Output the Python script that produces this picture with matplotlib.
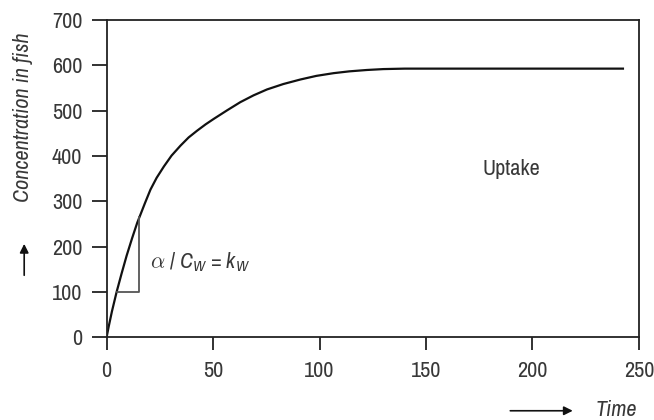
import numpy as np
import matplotlib
matplotlib.use('Agg')
import matplotlib.pyplot as plt
from matplotlib import font_manager

names = sorted(set(f.name for f in font_manager.fontManager.ttflist))
narrow = [n for n in names if 'Narrow' in n or 'Condensed' in n or 'Cond' in n]
fam = narrow[0] if narrow else 'Liberation Sans'
plt.rcParams['font.family'] = [fam, 'DejaVu Sans']
plt.rcParams['mathtext.fontset'] = 'custom'
plt.rcParams['mathtext.rm'] = fam
plt.rcParams['mathtext.it'] = fam + ':italic'

# values
time = [0, 1, 2.5, 4.7, 7, 9.4, 12, 14.4, 15.5, 18, 20.6, 23.5, 26.9, 30.5, 34.7, 38.5,
        42.5, 46.5, 50.3, 56.6, 62.8, 69, 75.3, 83, 91, 98.5, 106.6, 114, 122.2, 130,
        140, 160, 200, 243]
conc = [0, 24, 57, 100, 140, 180, 219, 253, 266, 296, 326, 352, 377, 401, 423, 441,
        456, 470, 482, 501, 519, 534, 547, 559, 569, 577, 583, 587, 590, 592,
        593, 593, 593, 593]

tri_x = [5, 15.3, 15.3]
tri_y = [100, 100, 265]

txt = '#383838'
fs = 16 if narrow else 14
fig = plt.figure(figsize=(6.54, 4.2), dpi=100)
ax = fig.add_axes([0.163, 0.197, 0.814, 0.755])
ax.plot(time, conc, color='#111111', lw=1.6, solid_capstyle='butt')
ax.plot(tri_x, tri_y, color='#555555', lw=1.3)

ax.set_xlim(0, 250)
ax.set_ylim(0, 700)
ax.set_xticks([0, 50, 100, 150, 200, 250])
ax.set_yticks(range(0, 701, 100))
ax.tick_params(axis='y', length=10.5, width=1.3, labelsize=fs, colors='#222222', labelcolor=txt, pad=7)
ax.tick_params(axis='x', length=9, width=1.3, labelsize=fs, colors='#222222', labelcolor=txt, pad=8)
for s in ax.spines.values():
    s.set_linewidth(1.3)
    s.set_color('#222222')

ax.text(190, 372, 'Uptake', fontsize=fs, color=txt, va='center', ha='center')
ax.text(20.6, 166, r'$\mathrm{\alpha}$ / $\mathit{C}_\mathit{W}$ = $\mathit{k}_\mathit{W}$', fontsize=fs,
        color=txt, va='center', ha='left')

fig.text(0.035, 0.72, 'Concentration in fish', rotation=90, style='italic', fontsize=fs,
         color=txt, ha='center', va='center')
ax.annotate('', xy=(0.037, 0.426), xytext=(0.037, 0.338), xycoords='figure fraction',
            textcoords='figure fraction', annotation_clip=False,
            arrowprops=dict(arrowstyle='-|>', color='#111111', lw=1.2, mutation_scale=13))
fig.text(0.974, 0.024, 'Time', style='italic', fontsize=fs, color=txt, ha='right', va='center')
ax.annotate('', xy=(0.88, 0.022), xytext=(0.776, 0.022), xycoords='figure fraction',
            textcoords='figure fraction', annotation_clip=False,
            arrowprops=dict(arrowstyle='-|>', color='#111111', lw=1.2, mutation_scale=13))

fig.savefig('out.png', dpi=100)
